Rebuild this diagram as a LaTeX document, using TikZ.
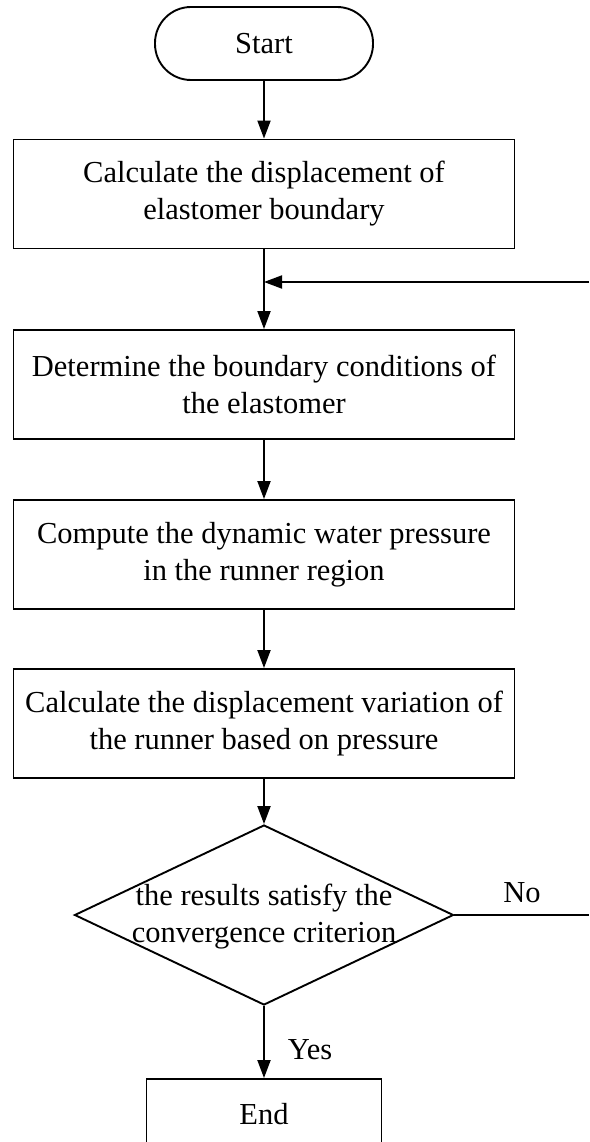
\documentclass[tikz,border=0pt]{standalone}
\usepackage{fontspec}
\setmainfont{Liberation Serif}
\usetikzlibrary{shapes.geometric,arrows.meta}
\begin{document}
\begin{tikzpicture}[x=1pt,y=1pt,
  every node/.style={font=\fontsize{30.5}{37}\selectfont},
  procbox/.style={draw, line width=1.9pt, minimum width=501pt, minimum height=109pt, align=center, inner sep=0pt},
  termbox/.style={draw, line width=1.9pt, rounded corners=36pt, minimum width=218pt, minimum height=73pt, inner sep=0pt},
  decbox/.style={draw, line width=1.9pt, diamond, minimum width=379pt, minimum height=180pt, inner sep=0pt},
  conn/.style={line width=1.9pt},
  arr/.style={conn, -{Triangle[length=18pt,width=13pt]}},
  lbl/.style={inner sep=0pt}
]
\useasboundingbox (0,0) rectangle (589,-1142);
\clip (0,0) rectangle (589,-1142);
\fill[white] (0,0) rectangle (589,-1142);

\node[termbox] (start) at (264,-43.5) {Start};
\node[procbox] (b1) at (264,-194) {Calculate the displacement of\\elastomer boundary};
\node[procbox] (b2) at (264,-384.5) {Determine the boundary conditions of\\the elastomer};
\node[procbox] (b3) at (264,-554.5) {Compute the dynamic water pressure\\in the runner region};
\node[procbox] (b4) at (264,-723.5) {Calculate the displacement variation of\\the runner based on pressure};
\node[decbox] (dec) at (264,-915) {};
\node[lbl, align=center] (dectext) at (264,-917) {the results satisfy the\\convergence criterion};
\node[draw, line width=1.9pt, minimum width=235pt, minimum height=70pt, inner sep=0pt] (endb) at (264,-1114) {End};

\coordinate (fbR) at (589,-282);
\coordinate (noR) at (589,-915);

\draw[arr] (start) -- (b1);
\draw[arr] (b1) -- (b2);
\draw[arr] (fbR) -- (b1.south |- fbR);
\draw[arr] (b2) -- (b3);
\draw[arr] (b3) -- (b4);
\draw[arr] (b4) -- (dec);
\draw[conn] (dec.east) -- (noR);
\draw[arr] (dec.south) -- (endb.north);

\node[lbl] (nolbl) at (522,-893) {No};
\node[lbl] (yeslbl) at (310,-1050) {Yes};
\end{tikzpicture}
\end{document}
